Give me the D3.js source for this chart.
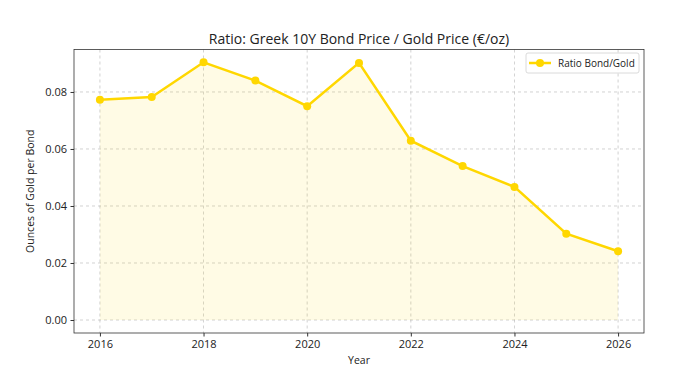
<!DOCTYPE html>
<html><head><meta charset="utf-8">
<script src="https://cdn.jsdelivr.net/npm/d3@7"></script>
<style>body{margin:0;background:#fff;} text{font-family:"Open Sans",Roboto,sans-serif;fill:#222;}</style>
</head><body>
<svg id="c" width="694" height="385"></svg>
<script>
const years = [2016,2017,2018,2019,2020,2021,2022,2023,2024,2025,2026];
const ratio = [0.0773,0.0782,0.0904,0.0840,0.0750,0.0902,0.0629,0.0540,0.0467,0.0303,0.0241];
const xTicks = [2016,2018,2020,2022,2024,2026];
const yTicks = [0,0.02,0.04,0.06,0.08];
const seriesName = "Ratio Bond/Gold";
const title = "Ratio: Greek 10Y Bond Price / Gold Price (€/oz)";

const svg = d3.select("#c");
const L=74,R=644,T=49.5,B=333;
const x = d3.scaleLinear().domain([2015.5,2026.5]).range([L,R]);
const y = d3.scaleLinear().domain([-0.00456,0.0949]).range([B,T]);
const gold="#FFD700";

// grid
const g = svg.append("g");
g.selectAll(".gx").data(xTicks).join("line").attr("x1",d=>x(d)).attr("x2",d=>x(d)).attr("y1",T).attr("y2",B)
 .attr("stroke","#b0b0b0").attr("stroke-width",0.8).attr("stroke-dasharray","3,3").attr("opacity",0.7);
g.selectAll(".gy").data(yTicks).join("line").attr("y1",d=>y(d)).attr("y2",d=>y(d)).attr("x1",L).attr("x2",R)
 .attr("stroke","#b0b0b0").attr("stroke-width",0.8).attr("stroke-dasharray","3,3").attr("opacity",0.7);

const data = years.map((yr,i)=>({yr,v:ratio[i]}));
svg.append("path").datum(data).attr("d",d3.area().x(d=>x(d.yr)).y0(y(0)).y1(d=>y(d.v)))
 .attr("fill",gold).attr("opacity",0.1);
svg.append("path").datum(data).attr("d",d3.line().x(d=>x(d.yr)).y(d=>y(d.v)))
 .attr("fill","none").attr("stroke",gold).attr("stroke-width",2.5);
svg.selectAll(".pt").data(data).join("circle").attr("cx",d=>x(d.yr)).attr("cy",d=>y(d.v)).attr("r",4).attr("fill",gold);

// axes
const xa = svg.append("g").attr("transform",`translate(0,${B})`).call(d3.axisBottom(x).tickValues(xTicks).tickFormat(d3.format("d")).tickSize(3.5).tickPadding(3.5));
const ya = svg.append("g").attr("transform",`translate(${L},0)`).call(d3.axisLeft(y).tickValues(yTicks).tickFormat(d3.format(".2f")).tickSize(3.5).tickPadding(3.5));
[xa,ya].forEach(a=>{a.selectAll("text").attr("font-size",11).style("fill","#222");a.selectAll("line").attr("stroke","#333");a.select(".domain").remove();});
svg.append("rect").attr("x",L).attr("y",T).attr("width",R-L).attr("height",B-T).attr("fill","none").attr("stroke","#333").attr("stroke-width",0.8);

svg.append("text").attr("x",(L+R)/2).attr("y",44).attr("text-anchor","middle").attr("font-size",14).text(title);
svg.append("text").attr("x",(L+R)/2).attr("y",364).attr("text-anchor","middle").attr("font-size",10.5).text("Year");
svg.append("text").attr("transform",`translate(34,${(T+B)/2}) rotate(-90)`).attr("text-anchor","middle").attr("font-size",10.5).text("Ounces of Gold per Bond");

// legend
const lg = svg.append("g");
lg.append("rect").attr("x",526).attr("y",53).attr("width",113).attr("height",20).attr("rx",2).attr("fill","#fff").attr("fill-opacity",0.8).attr("stroke","#d0d0d0").attr("stroke-width",0.8);
lg.append("line").attr("x1",529).attr("x2",551).attr("y1",63).attr("y2",63).attr("stroke",gold).attr("stroke-width",2.5);
lg.append("circle").attr("cx",540).attr("cy",63).attr("r",4).attr("fill",gold);
lg.append("text").attr("x",558).attr("y",67).attr("font-size",10).text(seriesName);
</script>
</body></html>
